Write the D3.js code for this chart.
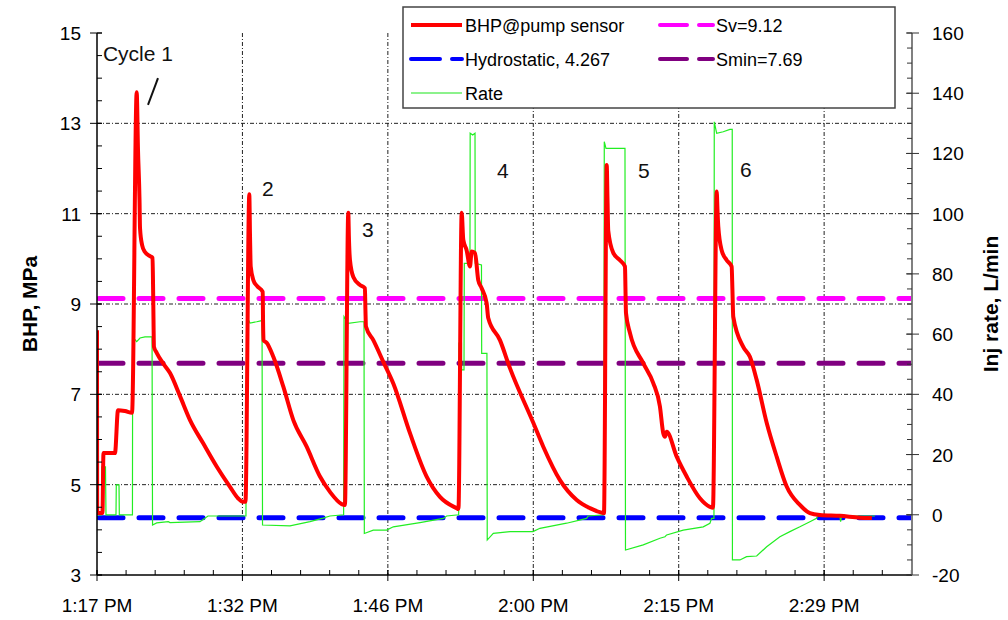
<!DOCTYPE html>
<html>
<head>
<meta charset="utf-8">
<script src="https://cdn.jsdelivr.net/npm/d3@7"></script>
<style>
body { margin: 0; background: #fff; }
text { font-family: Arial, "Liberation Sans", sans-serif; }
</style>
</head>
<body>
<div id="chart"></div>
<script>
// time in minutes after 1:17:40 PM
const bhpTime = [0, 0.02, 0.54, 0.64, 1.78, 2.08, 2.77, 3.47, 3.93, 4.06, 4.21, 4.26, 4.46, 4.75, 5.25, 5.50, 5.57, 5.64, 5.91, 6.53, 7.23, 8.22, 9.21, 10.50, 11.88, 13.17, 13.96, 14.46, 14.70,
  15.08, 15.15, 15.22, 15.48, 15.84, 16.41, 16.44, 16.49, 16.80, 17.46, 18.45, 19.44, 20.76, 22.08, 23.07, 24.23, 24.55,
  24.88, 24.95, 25.05, 25.38, 26.04, 26.53, 26.58, 26.63, 27.36, 28.35, 29.34, 30.99, 32.64, 33.96, 35.61, 35.79,
  36.11, 36.27, 36.60, 36.93, 37.10, 37.43, 37.75, 38.09, 38.58, 38.74, 39.90, 40.89, 43.20, 44.19, 45.84, 47.50, 48.81, 49.97, 50.20,
  50.47, 50.55, 50.62, 51.12, 51.78, 52.28, 52.33, 52.38, 52.77, 54.09, 55.08, 55.74, 56.07, 56.24, 56.41, 57.40, 58.39, 59.70, 60.69, 60.99,
  61.36, 61.44, 61.52, 61.85, 62.35, 62.84, 62.92, 63.00, 63.99, 64.65, 65.32, 66.31, 67.30, 68.29, 69.60, 70.59, 71.58, 73.56, 75.54, 76.73];
const bhpValue = [8.42, 4.37, 4.37, 5.70, 5.70, 6.65, 6.63, 6.59, 13.69, 12.41, 11.30, 10.68, 10.31, 10.15, 10.06, 10.02, 9.09, 8.05, 7.92, 7.69, 7.47, 6.96, 6.43, 5.92, 5.39, 4.95, 4.70, 4.62, 4.62,
  11.43, 10.53, 9.83, 9.53, 9.40, 9.27, 8.65, 8.20, 8.14, 7.83, 7.17, 6.43, 5.84, 5.18, 4.84, 4.57, 4.55,
  11.02, 10.42, 9.97, 9.60, 9.42, 9.35, 8.87, 8.50, 8.20, 7.72, 7.24, 6.14, 5.18, 4.73, 4.48, 4.46,
  11.02, 10.42, 10.19, 9.83, 10.16, 10.13, 9.53, 9.35, 9.02, 8.69, 8.20, 7.58, 6.37, 5.84, 5.10, 4.66, 4.48, 4.38, 4.37,
  12.08, 11.30, 10.63, 10.13, 9.97, 9.83, 9.31, 8.80, 8.36, 7.69, 7.25, 6.73, 6.14, 6.06, 6.17, 5.62, 5.18, 4.70, 4.51, 4.49,
  11.49, 11.08, 10.71, 10.19, 9.97, 9.83, 9.31, 8.72, 8.05, 7.83, 7.32, 6.37, 5.62, 4.96, 4.55, 4.37, 4.33, 4.31, 4.27, 4.26];

const rateTime = [0, 0.45, 0.47, 0.84, 0.89, 1.88, 1.91, 2.18, 2.21, 3.51, 3.53, 3.93, 4.26, 4.75, 5.45, 5.50, 5.91, 7.06, 7.23, 10.20, 10.99, 14.75,
  14.82, 15.15, 15.81, 16.34, 16.39, 19.11, 21.09, 22.38, 23.07, 24.42,
  24.46, 24.88, 26.04, 26.44, 26.47, 27.36, 28.68, 29.34, 31.98, 34.29, 34.62, 35.81,
  35.84, 36.09, 36.11, 36.34, 36.37, 36.93, 36.95, 37.20, 37.43, 37.45, 38.07, 38.09, 38.61, 38.64, 39.24, 40.89, 43.17, 43.86, 46.50, 48.48, 48.64, 50.18,
  50.23, 50.40, 52.28, 52.33, 54.09, 55.74, 56.24, 56.41, 58.05, 60.03, 60.69, 60.86, 61.09,
  61.12, 61.36, 62.01, 62.67, 62.90, 62.92, 63.66, 64.32, 65.32, 66.31, 67.62, 68.61, 69.60, 70.59, 71.25, 71.42, 73.56, 73.63, 73.73, 77.03];
const rateValue = [0, 0, 15.9, 15.9, 0, 0, 9.9, 9.9, 0, 0, 59.1, 57.5, 58.7, 59.1, 59.1, -3.4, -2.7, -2.3, -2.6, -2.3, -0.4, -0.4,
  65.8, 63.7, 64.1, 64.5, -3.4, -3.7, -2.3, -1.1, -0.4, 0,
  65.8, 63.6, 64.1, 64.1, -6.2, -5.1, -5.1, -4.0, -2.6, -1.2, -0.4, 0,
  57.0, 57.0, 48.1, 48.1, 83.5, 83.5, 126.7, 126.1, 126.7, 83.5, 83.0, 53.6, 53.6, -8.4, -6.2, -5.6, -5.6, -4.5, -2.8, -1.2, -0.4, 0,
  123.9, 121.7, 121.7, -11.7, -10.0, -7.8, -7.3, -6.7, -5.1, -4.0, -2.8, -1.2, -1.2,
  130.5, 126.7, 127.2, 128.0, 128.0, -15.0, -15.0, -13.9, -13.7, -10.6, -7.3, -5.6, -4.0, -2.3, -1.2, 0, -0.4, -2.3, -0.4, -0.4];

const timeTicks = [0, 14.4, 28.8, 43.2, 57.6, 72];
const timeLabels = ["1:17 PM", "1:32 PM", "1:46 PM", "2:00 PM", "2:15 PM", "2:29 PM"];
const bhpTicks = [3, 5, 7, 9, 11, 13, 15];
const rateTicks = [-20, 0, 20, 40, 60, 80, 100, 120, 140, 160];

const refNames = ["Sv=9.12", "Smin=7.69", "Hydrostatic, 4.267"];
const refValues = [9.12, 7.69, 4.267];
const refColors = ["#ff00ff", "#800080", "#0000ff"];

const cycleLabels = ["Cycle 1", "2", "3", "4", "5", "6"];
const cycleTime = [0.59, 16.34, 26.24, 39.60, 53.56, 63.66];
const cycleBhp = [14.38, 11.39, 10.48, 11.79, 11.79, 11.81];

const W = 1008, H = 620;
const margin = { top: 33, right: 96, bottom: 45, left: 97 };
const width = W - margin.left - margin.right;
const height = H - margin.top - margin.bottom;

const svg = d3.select("#chart").append("svg")
  .attr("width", W).attr("height", H);

const g = svg.append("g").attr("transform", `translate(${margin.left},${margin.top})`);

const x = d3.scaleLinear().domain([0, 80.7]).range([0, width]);
const y = d3.scaleLinear().domain([3, 15]).range([height, 0]);
const y2 = d3.scaleLinear().domain([-20, 160]).range([height, 0]);

// grid
const gridDash = "4,2,1,2";
g.append("g").selectAll("line").data(bhpTicks.slice(1, -1)).enter().append("line")
  .attr("x1", 0).attr("x2", width).attr("y1", d => y(d)).attr("y2", d => y(d))
  .attr("stroke", "#222").attr("stroke-width", 1).attr("stroke-dasharray", gridDash);
g.append("g").selectAll("line").data(timeTicks.slice(1)).enter().append("line")
  .attr("x1", d => x(d)).attr("x2", d => x(d)).attr("y1", 0).attr("y2", height)
  .attr("stroke", "#222").attr("stroke-width", 1).attr("stroke-dasharray", gridDash);

g.append("clipPath").attr("id", "clip").append("rect")
  .attr("x", 0).attr("y", 0).attr("width", width).attr("height", height);
const plot = g.append("g").attr("clip-path", "url(#clip)");

// reference lines
plot.selectAll(".ref").data(refValues).enter().append("line")
  .attr("class", "ref")
  .attr("x1", 2).attr("x2", width).attr("y1", d => y(d)).attr("y2", d => y(d))
  .attr("stroke", (d, i) => refColors[i]).attr("stroke-width", 5)
  .attr("stroke-linecap", "round").attr("stroke-dasharray", "24,16");

// rate line
const rateData = rateTime.map((t, i) => [t, rateValue[i]]);
plot.append("path").datum(rateData)
  .attr("fill", "none").attr("stroke", "#22ee22").attr("stroke-width", 1.2)
  .attr("d", d3.line().x(d => x(d[0])).y(d => y2(d[1])));

// BHP line
const bhpData = bhpTime.map((t, i) => [t, bhpValue[i]]);
plot.append("path").datum(bhpData)
  .attr("fill", "none").attr("stroke", "#ff0000").attr("stroke-width", 4)
  .attr("stroke-linejoin", "round")
  .attr("d", d3.line().curve(d3.curveMonotoneX).x(d => x(d[0])).y(d => y(d[1])));

// axes
const tickFont = 19;
const xAxis = g.append("g").attr("transform", `translate(0,${height})`);
xAxis.append("line").attr("x1", 0).attr("x2", width).attr("stroke", "#000").attr("stroke-width", 1.5);
xAxis.selectAll(".minor").data(d3.range(0, 80.7, 2.88)).enter().append("line")
  .attr("x1", d => x(d)).attr("x2", d => x(d)).attr("y1", 0).attr("y2", -5).attr("stroke", "#000");
xAxis.selectAll(".major").data(timeTicks).enter().append("line")
  .attr("x1", d => x(d)).attr("x2", d => x(d)).attr("y1", -5).attr("y2", 6).attr("stroke", "#000");
xAxis.selectAll("text").data(timeTicks).enter().append("text")
  .attr("x", d => x(d)).attr("y", 37).attr("text-anchor", "middle")
  .attr("font-size", tickFont).text((d, i) => timeLabels[i]);

const yAxis = g.append("g");
yAxis.append("line").attr("y1", 0).attr("y2", height).attr("stroke", "#000").attr("stroke-width", 1.5);
yAxis.selectAll(".minor").data(d3.range(3, 15.01, 0.5)).enter().append("line")
  .attr("x1", 0).attr("x2", 5).attr("y1", d => y(d)).attr("y2", d => y(d)).attr("stroke", "#000");
yAxis.selectAll(".major").data(bhpTicks).enter().append("line")
  .attr("x1", -7).attr("x2", 5).attr("y1", d => y(d)).attr("y2", d => y(d)).attr("stroke", "#000");
yAxis.selectAll("text").data(bhpTicks).enter().append("text")
  .attr("x", -16).attr("y", d => y(d) + 7).attr("text-anchor", "end")
  .attr("font-size", tickFont).text(d => d);

const y2Axis = g.append("g").attr("transform", `translate(${width},0)`);
y2Axis.append("line").attr("y1", 0).attr("y2", height).attr("stroke", "#808080").attr("stroke-width", 2);
y2Axis.selectAll(".minor").data(d3.range(-20, 160.1, 5)).enter().append("line")
  .attr("x1", -5).attr("x2", 0).attr("y1", d => y2(d)).attr("y2", d => y2(d)).attr("stroke", "#333");
y2Axis.selectAll(".major").data(rateTicks).enter().append("line")
  .attr("x1", -6).attr("x2", 7).attr("y1", d => y2(d)).attr("y2", d => y2(d)).attr("stroke", "#333");
y2Axis.selectAll("text").data(rateTicks).enter().append("text")
  .attr("x", 20).attr("y", d => y2(d) + 7).attr("text-anchor", "start")
  .attr("font-size", tickFont).text(d => d);

// axis titles
svg.append("text")
  .attr("transform", `translate(37,${margin.top + y(9)}) rotate(-90)`)
  .attr("text-anchor", "middle").attr("font-size", 21).attr("font-weight", "bold")
  .text("BHP, MPa");
svg.append("text")
  .attr("transform", `translate(998,${margin.top + y(9)}) rotate(-90)`)
  .attr("text-anchor", "middle").attr("font-size", 21).attr("font-weight", "bold")
  .text("Inj rate, L/min");

// cycle labels
g.selectAll(".cyc").data(cycleLabels).enter().append("text")
  .attr("x", (d, i) => x(cycleTime[i])).attr("y", (d, i) => y(cycleBhp[i]))
  .attr("font-size", 21).attr("fill", "#111").text(d => d);
g.append("line")
  .attr("x1", x(5.05)).attr("y1", y(13.41)).attr("x2", x(6.04)).attr("y2", y(14.0))
  .attr("stroke", "#111").attr("stroke-width", 2);

// legend
const leg = svg.append("g");
leg.append("rect").attr("x", 403).attr("y", 7).attr("width", 492).attr("height", 101)
  .attr("fill", "#fff").attr("stroke", "#444").attr("stroke-width", 1.5);
const legItems = [
  { name: "BHP@pump sensor", color: "#ff0000", w: 4, dash: null, lx: 411, ly: 25 },
  { name: refNames[2], color: refColors[2], w: 4, dash: "29,12", lx: 411, ly: 59 },
  { name: "Rate", color: "#66ee66", w: 1.5, dash: null, lx: 411, ly: 93 },
  { name: refNames[0], color: refColors[0], w: 4, dash: "27,12", lx: 660, ly: 25 },
  { name: refNames[1], color: refColors[1], w: 4, dash: "27,12", lx: 660, ly: 59 }
];
legItems.forEach(it => {
  const len = it.lx === 411 ? 51 : 53;
  leg.append("line").attr("x1", it.lx).attr("x2", it.lx + len).attr("y1", it.ly).attr("y2", it.ly)
    .attr("stroke", it.color).attr("stroke-width", it.w)
    .attr("stroke-dasharray", it.dash).attr("stroke-linecap", it.dash ? "round" : "butt");
  leg.append("text").attr("x", it.lx + len + 3).attr("y", it.ly + 6.5)
    .attr("font-size", 18).text(it.name);
});
</script>
</body>
</html>
